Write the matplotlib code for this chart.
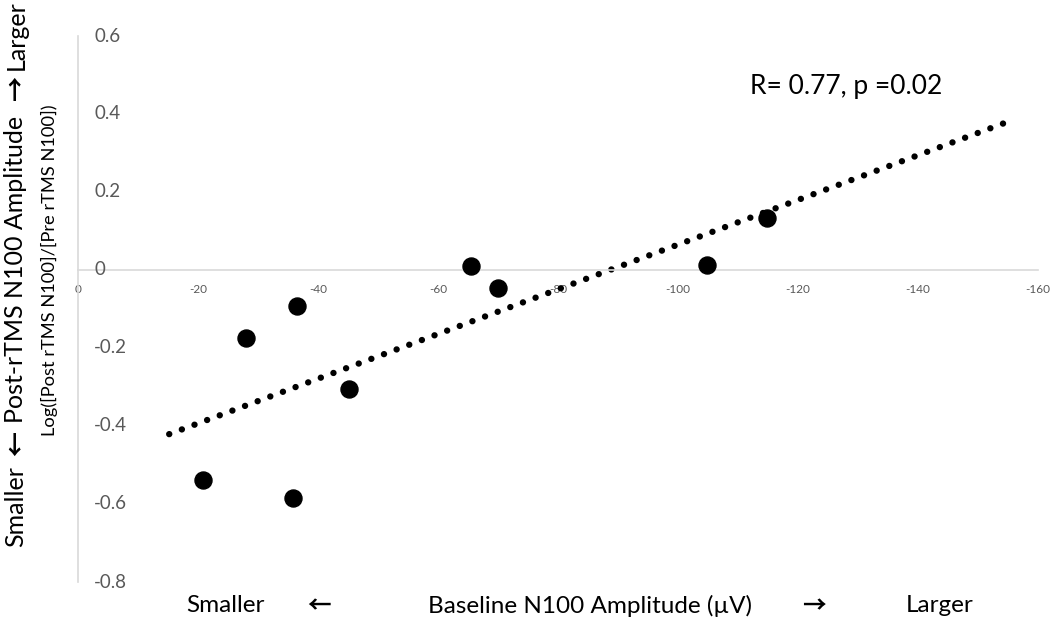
import matplotlib.pyplot as plt
import numpy as np

plt.rcParams['font.family'] = ['Lato', 'DejaVu Sans']

# baseline N100 amplitude (uV) and log ratio post/pre
baseline = [-20.8, -28.0, -35.8, -36.5, -45.2, -65.5, -70.0, -104.8, -114.8]
log_ratio = [-0.538, -0.174, -0.585, -0.092, -0.305, 0.010, -0.046, 0.013, 0.133]
x_ticks = [0, -20, -40, -60, -80, -100, -120, -140, -160]
y_ticks = [0.6, 0.4, 0.2, 0, -0.2, -0.4, -0.6, -0.8]
trend_range = [-15.2, -155.8]

grey = '#595959'
line_grey = '#d9d9d9'
arrow_font = ['Noto Sans CJK JP', 'DejaVu Sans']

fig = plt.figure(figsize=(10.5, 6.21), dpi=100)
ax = fig.add_axes([78 / 1050, 39 / 621, 960 / 1050, 546 / 621])

ax.scatter(baseline, log_ratio, s=150, color='black', zorder=3)

# linear trendline
slope, intercept = np.polyfit(baseline, log_ratio, 1)
tx = np.array(trend_range)
ax.plot(tx, slope * tx + intercept, color='black', lw=4.6,
        linestyle=(0, (0.01, 2.1)), dash_capstyle='round', clip_on=False, zorder=2)

ax.set_xlim(0, -160)
ax.set_ylim(-0.8, 0.6)

for side in ['top', 'right']:
    ax.spines[side].set_visible(False)
ax.spines['bottom'].set_position(('data', 0))
ax.spines['bottom'].set_color(line_grey)
ax.spines['left'].set_color(line_grey)
ax.spines['bottom'].set_linewidth(1.2)
ax.spines['left'].set_linewidth(1.2)

ax.set_xticks(x_ticks)
ax.set_xticklabels([f'{v}' for v in x_ticks])
ax.tick_params(axis='x', length=0, labelsize=8.5, labelcolor=grey, pad=10)

ax.set_yticks(y_ticks)
ax.set_yticklabels([])
ax.tick_params(axis='y', length=0)
for v in y_ticks:
    ax.text(-2.7, v, f'{v:g}', ha='left', va='center', fontsize=13.5, color=grey)

ax.text(750 / 960 - 78 / 960, 0.907, 'R= 0.77, p =0.02', transform=ax.transAxes,
        ha='left', va='center', fontsize=19)

# outer y title, pieces placed along the left edge
y_parts = [('Smaller', 507), ('\u2190', 443), ('Post-rTMS N100 Amplitude', 269),
           ('\u2192', 88), ('Larger', 35)]
for txt, py in y_parts:
    if txt in ('\u2190', '\u2192'):
        fig.text(16 / 1050, 1 - py / 621, txt, rotation=90, ha='center', va='center',
                 fontsize=18, family=arrow_font, fontweight='bold')
    else:
        fig.text(16 / 1050, 1 - py / 621, txt, rotation=90, ha='center', va='center',
                 fontsize=18)
fig.text(49 / 1050, 1 - 270 / 621, 'Log([Post rTMS N100]/[Pre rTMS N100])',
         rotation=90, ha='center', va='center', fontsize=13.2)

# bottom x title
x_parts = [('Smaller', 225), ('\u2190', 319), ('Baseline N100 Amplitude (\u00b5V)', 590),
           ('\u2192', 814), ('Larger', 940)]
for txt, px in x_parts:
    if txt in ('\u2190', '\u2192'):
        fig.text(px / 1050, 1 - 606 / 621, txt, ha='center', va='center', fontsize=17,
                 family=arrow_font, fontweight='bold')
    else:
        fig.text(px / 1050, 1 - 606 / 621, txt, ha='center', va='center', fontsize=17.5)

fig.savefig('out.png', dpi=100)
